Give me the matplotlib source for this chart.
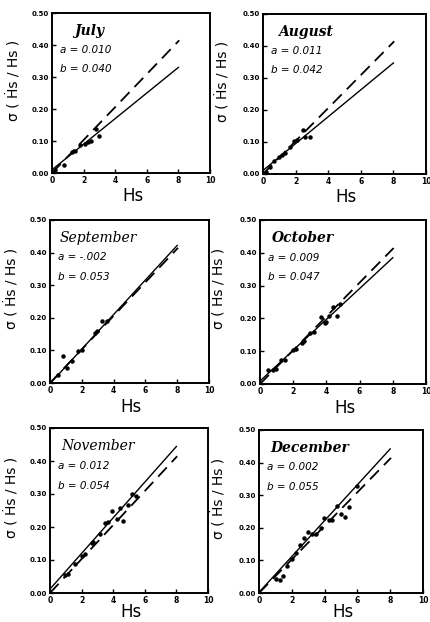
import matplotlib
matplotlib.use("Agg")
import matplotlib.pyplot as plt
import numpy as np

# ---------------- data ----------------
months = ["July", "August", "September", "October", "November", "December"]
a_text = ["0.010", "0.011", "-.002", "0.009", "0.012", "0.002"]
b_text = ["0.040", "0.042", "0.053", "0.047", "0.054", "0.055"]
a_vals = [0.010, 0.011, -0.002, 0.009, 0.012, 0.002]
b_vals = [0.040, 0.042, 0.053, 0.047, 0.054, 0.055]
ref_slope = 0.0515

july_hs = [0.2, 0.74, 1.26, 1.47, 1.8, 2.1, 2.3, 2.5, 2.8, 3.0]
july_sd = [0.008, 0.026, 0.066, 0.069, 0.087, 0.09, 0.097, 0.1, 0.136, 0.115]

aug_hs = [0.18, 0.45, 0.7, 0.96, 1.16, 1.37, 1.67, 1.88, 2.08, 2.43, 2.6, 2.9]
aug_sd = [0.007, 0.023, 0.04, 0.054, 0.06, 0.065, 0.085, 0.104, 0.106, 0.137, 0.117, 0.115]

sep_hs = [0.52, 0.84, 1.05, 1.36, 1.78, 1.99, 2.82, 2.97, 3.24, 3.56]
sep_sd = [0.026, 0.082, 0.046, 0.066, 0.097, 0.102, 0.153, 0.158, 0.19, 0.189]

oct_hs = [0.48, 0.79, 0.99, 1.29, 1.49, 2.0, 2.16, 2.5, 2.66, 3.0, 3.27, 3.65,
          3.91, 3.97, 4.17, 4.38, 4.66, 4.82]
oct_sd = [0.043, 0.043, 0.047, 0.072, 0.074, 0.104, 0.108, 0.125, 0.13, 0.155,
          0.158, 0.204, 0.187, 0.188, 0.206, 0.236, 0.208, 0.245]

nov_hs = [0.95, 1.16, 1.58, 2.0, 2.21, 2.63, 2.74, 3.16, 3.47, 3.68, 3.9, 4.21,
          4.42, 4.59, 4.95, 5.16, 5.43]
nov_sd = [0.054, 0.059, 0.089, 0.112, 0.118, 0.152, 0.155, 0.179, 0.211, 0.216,
          0.249, 0.223, 0.257, 0.219, 0.267, 0.3, 0.294]

dec_hs = [1.06, 1.26, 1.46, 1.73, 2.01, 2.28, 2.48, 2.75, 2.99, 3.25, 3.5, 3.76,
          3.96, 4.25, 4.45, 4.78, 4.98, 5.22, 5.47, 6.0]
dec_sd = [0.043, 0.041, 0.053, 0.082, 0.104, 0.124, 0.148, 0.17, 0.186, 0.18,
          0.181, 0.2, 0.231, 0.224, 0.224, 0.267, 0.243, 0.232, 0.265, 0.327]

hs_data = [july_hs, aug_hs, sep_hs, oct_hs, nov_hs, dec_hs]
sd_data = [july_sd, aug_sd, sep_sd, oct_sd, nov_sd, dec_sd]

x_ticks = [0, 2, 4, 6, 8, 10]
y_ticks = [0.0, 0.1, 0.2, 0.3, 0.4, 0.5]
y_tick_labels = ["0.00", "0.10", "0.20", "0.30", "0.40", "0.50"]
line_x = [0, 8]
ref_x = [0, 8.05]

# ---------------- layout ----------------
W, H = 431, 622
boxes = [(52, 210, 13, 173), (263, 426, 14, 174),
         (50, 209, 220, 383), (260, 426, 220, 384),
         (50, 208, 428, 593), (259, 423, 430, 593)]
title_styles = [("bold", "italic"), ("bold", "italic"), ("normal", "italic"),
                ("bold", "italic"), ("normal", "italic"), ("bold", "italic")]
title_x = [0.14, 0.09, 0.06, 0.07, 0.07, 0.07]
ylab_x = [-0.19, -0.20, -0.19, -0.20, -0.19, -0.20]
xlab_y = [-0.09, -0.09, -0.09, -0.09, -0.06, -0.06]

fig = plt.figure(figsize=(W / 100, H / 100), dpi=100)

for i in range(6):
    l, r, t, b = boxes[i]
    ax = fig.add_axes([l / W, 1 - b / H, (r - l) / W, (b - t) / H])
    ax.set_xlim(0, 10)
    ax.set_ylim(0, 0.5)
    for s in ax.spines.values():
        s.set_linewidth(1.4)
    ax.set_xticks(x_ticks)
    ax.set_xticklabels([str(v) for v in x_ticks], fontsize=5.5, fontweight="bold")
    ax.set_yticks(y_ticks)
    ax.set_yticklabels(y_tick_labels, fontsize=5, fontweight="bold")
    ax.tick_params(direction="in", length=3, width=1, pad=2)

    ax.plot(ref_x, [ref_slope * v for v in ref_x], color="black", lw=1.3,
            linestyle=(0, (7, 4)))
    ax.plot(line_x, [a_vals[i] + b_vals[i] * v for v in line_x], color="black", lw=1.0)
    ax.plot(hs_data[i], sd_data[i], "o", color="black", markersize=2.2)

    ax.text(title_x[i], 0.89, months[i], transform=ax.transAxes, fontsize=10,
            fontweight=title_styles[i][0], fontstyle=title_styles[i][1],
            family="DejaVu Serif", va="center", ha="left")
    ax.text(0.05, 0.77, "a = " + a_text[i], transform=ax.transAxes, fontsize=7.5,
            fontstyle="italic", va="center", ha="left")
    ax.text(0.05, 0.65, "b = " + b_text[i], transform=ax.transAxes, fontsize=7.5,
            fontstyle="italic", va="center", ha="left")

    ax.set_ylabel("\u03c3 ( \u1e22s / Hs )", fontsize=10)
    ax.yaxis.set_label_coords(ylab_x[i], 0.58)
    ax.set_xlabel("Hs", fontsize=12)
    ax.xaxis.set_label_coords(0.51, xlab_y[i])

fig.savefig("out.png", dpi=100)
